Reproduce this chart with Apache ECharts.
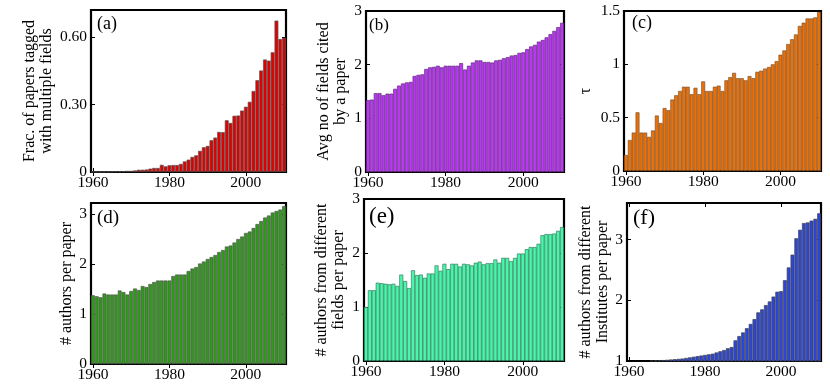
<!DOCTYPE html>
<html><head><meta charset="utf-8">
<script src="https://cdn.jsdelivr.net/npm/echarts@6/dist/echarts.min.js"></script>
<style>html,body{margin:0;padding:0;background:#fff}#chart{width:830px;height:388px}</style>
</head><body><div id="chart"></div>
<script>
const years = ['1960','1961','1962','1963','1964','1965','1966','1967','1968','1969',
  '1970','1971','1972','1973','1974','1975','1976','1977','1978','1979',
  '1980','1981','1982','1983','1984','1985','1986','1987','1988','1989',
  '1990','1991','1992','1993','1994','1995','1996','1997','1998','1999',
  '2000','2001','2002','2003','2004','2005','2006','2007','2008','2009','2010'];
const xTickLabels = ['1960','1980','2000'];

const fracMultiField = [0.001,0.001,0.001,0.001,0.002,0.002,0.003,0.003,0.004,0.005,
  0.005,0.007,0.010,0.010,0.011,0.015,0.018,0.018,0.032,0.025,
  0.030,0.031,0.031,0.036,0.047,0.055,0.067,0.074,0.094,0.110,
  0.116,0.141,0.153,0.178,0.177,0.230,0.218,0.250,0.251,0.273,
  0.290,0.312,0.360,0.408,0.451,0.500,0.495,0.532,0.673,0.591,0.597];
const avgFieldsCited = [1.34,1.35,1.47,1.47,1.43,1.46,1.46,1.55,1.61,1.65,
  1.67,1.68,1.79,1.81,1.82,1.92,1.95,1.96,1.98,1.95,
  1.98,1.98,1.98,1.98,2.03,1.91,1.98,2.04,2.08,2.08,
  2.05,2.05,2.04,2.08,2.09,2.12,2.14,2.17,2.18,2.22,
  2.23,2.29,2.34,2.37,2.43,2.46,2.51,2.57,2.63,2.70,2.78];
const tau = [0.15,0.29,0.36,0.55,0.36,0.36,0.32,0.38,0.52,0.45,
  0.59,0.57,0.67,0.71,0.75,0.79,0.79,0.72,0.78,0.72,
  0.84,0.75,0.75,0.79,0.80,0.75,0.85,0.88,0.92,0.87,
  0.87,0.85,0.89,0.87,0.93,0.94,0.96,0.975,1.00,1.03,
  1.09,1.13,1.19,1.235,1.28,1.36,1.39,1.43,1.43,1.44,1.49];
const authorsPerPaper = [1.375,1.355,1.335,1.41,1.39,1.39,1.39,1.47,1.44,1.39,
  1.46,1.51,1.48,1.56,1.54,1.60,1.64,1.67,1.67,1.67,
  1.67,1.76,1.79,1.79,1.79,1.86,1.91,1.94,2.01,2.05,
  2.10,2.14,2.18,2.24,2.28,2.35,2.37,2.43,2.50,2.55,
  2.62,2.65,2.72,2.80,2.86,2.93,2.97,3.03,3.06,3.09,3.16];
const authorsDiffFields = [1.00,1.31,1.31,1.45,1.44,1.43,1.42,1.43,1.39,1.60,
  1.48,1.35,1.68,1.59,1.60,1.54,1.62,1.62,1.77,1.67,
  1.80,1.70,1.80,1.80,1.75,1.80,1.79,1.77,1.82,1.84,
  1.79,1.81,1.81,1.88,1.82,1.91,1.91,1.85,1.91,1.99,
  1.99,2.07,2.11,2.11,2.17,2.33,2.35,2.35,2.36,2.41,2.48];
const authorsDiffInstitutes = [1.000,1.001,1.001,1.002,1.003,1.004,1.006,1.008,1.010,1.015,
  1.020,1.025,1.030,1.035,1.040,1.050,1.060,1.070,1.080,1.090,
  1.100,1.110,1.120,1.140,1.160,1.180,1.210,1.230,1.340,1.410,
  1.470,1.540,1.610,1.690,1.800,1.850,1.920,1.980,2.060,2.140,
  2.150,2.330,2.540,2.750,3.020,3.160,3.270,3.280,3.310,3.340,3.430];

const FONT = '"Liberation Serif","Times New Roman",serif';

const panels = [
  {data: fracMultiField, label:'(a)', labelSize:18, labelPos:[97,24],
   box:[91,10,195,162], yMin:0, yMax:0.72, yInt:0.3, dec:2,
   name:'Frac. of papers tagged\nwith multiple fields', nameGap:36,
   color:'#e00000', edge:'#555555', bw:0.7},
  {data: avgFieldsCited, label:'(b)', labelSize:17, labelPos:[369,26],
   box:[366,11,198,161], yMin:0, yMax:3, yInt:1, dec:0,
   name:'Avg no of fields cited\nby a paper', nameGap:17,
   color:'#bc36f8', edge:'#5e2c72', bw:0.7},
  {data: tau, label:'(c)', labelSize:18, labelPos:[632,23],
   box:[624,11,197,160], yMin:0, yMax:1.5, yInt:0.5, dec:-1,
   name:'τ', nameGap:30,
   color:'#ea7008', edge:'#6e4a2a', bw:0.6},
  {data: authorsPerPaper, label:'(d)', labelSize:19, labelPos:[97,218],
   box:[91,203,195,161], yMin:0, yMax:3.22, yInt:1, dec:0,
   name:'# authors per paper', nameGap:16,
   color:'#2c9c16', edge:'#555555', bw:0.7},
  {data: authorsDiffFields, label:'(e)', labelSize:23, labelPos:[369,217],
   box:[364,199,200,162], yMin:0, yMax:3, yInt:1, dec:0,
   name:'# authors from different\nfields per paper', nameGap:17,
   color:'#46f7aa', edge:'#2c6a50', bw:0.6},
  {data: authorsDiffInstitutes, label:'(f)', labelSize:22, labelPos:[633,218],
   box:[627,203,194,158], yMin:1, yMax:3.6, yInt:1, dec:0,
   name:'# authors from different\nInstitutes per paper', nameGap:15,
   color:'#2a46dc', edge:'#444444', bw:0.7}
];

const tickOn = (i, v) => xTickLabels.indexOf(v) >= 0;
const option = {animation:false, backgroundColor:'#fff', grid:[], xAxis:[], yAxis:[], series:[], graphic:[]};

panels.forEach((p, k) => {
  option.grid.push({left:p.box[0], top:p.box[1], width:p.box[2], height:p.box[3],
    show:true, borderColor:'#000', borderWidth:2.2, backgroundColor:'transparent'});
  const xTick = {show:true, inside:true, alignWithLabel:true, interval:tickOn, length:4,
    lineStyle:{color:'#000', width:1}};
  option.xAxis.push({type:'category', gridIndex:k, data:years, position:'bottom',
    axisLine:{show:false}, axisTick:xTick,
    axisLabel:{interval:tickOn, fontFamily:FONT, fontSize:15.5, color:'#000', margin:3},
    splitLine:{show:false}});
  option.xAxis.push({type:'category', gridIndex:k, data:years, position:'top',
    axisLine:{show:false}, axisTick:xTick, axisLabel:{show:false}, splitLine:{show:false}});
  const fmt = v => {
    const r = v / p.yInt;
    if (Math.abs(r - Math.round(r)) > 1e-6) return '';
    if (Math.abs(v) < 1e-9) return '0';
    if (p.dec >= 0) return v.toFixed(p.dec);
    return String(Math.round(v * 100) / 100);
  };
  const yTick = {show:true, inside:true, length:4, lineStyle:{color:'#000', width:1}};
  option.yAxis.push({type:'value', gridIndex:k, position:'left', min:p.yMin, max:p.yMax, interval:p.yInt,
    name:p.name, nameLocation:'middle', nameGap:p.nameGap,
    nameTextStyle:{fontFamily:FONT, fontSize:16, lineHeight:17, color:'#000'},
    axisLine:{show:false}, axisTick:yTick,
    axisLabel:{formatter:fmt, fontFamily:FONT, fontSize:15.5, color:'#000', margin:4,
      showMaxLabel:true},
    splitLine:{show:false}});
  option.yAxis.push({type:'value', gridIndex:k, position:'right', min:p.yMin, max:p.yMax, interval:p.yInt,
    axisLine:{show:false}, axisTick:yTick, axisLabel:{show:false}, splitLine:{show:false}});
  option.series.push({type:'bar', xAxisIndex:2*k, yAxisIndex:2*k, data:p.data,
    barCategoryGap:'0%', clip:true, silent:true,
    itemStyle:{color:p.color, borderColor:p.edge, borderWidth:p.bw}});
  option.graphic.push({type:'text', x:p.labelPos[0], y:p.labelPos[1], z:100,
    style:{text:p.label, font:p.labelSize + 'px ' + FONT, fill:'#000', align:'left', verticalAlign:'middle'}});
});

const chart = echarts.init(document.getElementById('chart'), null, {renderer:'canvas'});
chart.setOption(option);
</script>
</body></html>
